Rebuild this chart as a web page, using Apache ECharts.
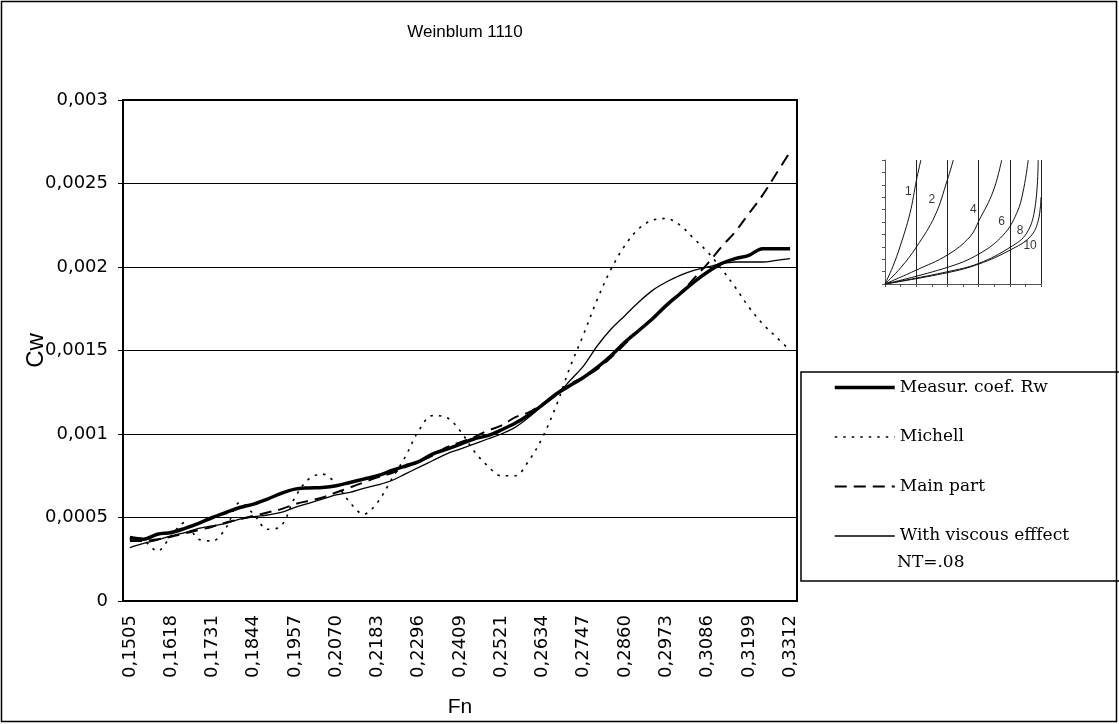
<!DOCTYPE html>
<html><head><meta charset="utf-8">
<script src="https://cdn.jsdelivr.net/npm/echarts@6/dist/echarts.min.js"></script>
<style>html,body{margin:0;padding:0;background:#fff}#c{width:1119px;height:724px}</style>
</head><body><div id="c"></div>
<script>
// Categories (Fn)
const fn = [0.1505,0.1543,0.1580,0.1618,0.1656,0.1693,0.1731,0.1769,0.1806,0.1844,
0.1881,0.1919,0.1957,0.1994,0.2032,0.2070,0.2107,0.2145,0.2183,0.2220,
0.2258,0.2296,0.2333,0.2371,0.2409,0.2446,0.2484,0.2521,0.2559,0.2597,
0.2634,0.2672,0.2710,0.2747,0.2785,0.2823,0.2860,0.2898,0.2936,0.2973,
0.3011,0.3049,0.3086,0.3124,0.3161,0.3199,0.3237,0.3274,0.3312];
const measured = [0.00038,0.00037,0.00040,0.00041,0.000435,0.000465,0.00050,0.00053,0.00056,0.00058,
0.00061,0.000645,0.00067,0.000677,0.00068,0.00069,0.00071,0.00073,0.00075,0.00078,
0.000808,0.000834,0.00088,0.000908,0.000938,0.00097,0.00099,0.001024,0.001064,0.001114,
0.001174,0.00124,0.00129,0.00134,0.00140,0.00147,0.00155,0.00162,0.00169,0.00177,
0.00184,0.00191,0.00197,0.00202,0.00205,0.00207,0.00211,0.00211,0.00211];
const michell = [0.00037,0.00036,0.00030,0.00039,0.00047,0.00037,0.00036,0.00044,0.00059,0.00052,
0.00043,0.00045,0.00062,0.00073,0.00076,0.00070,0.00059,0.00052,0.00059,0.000725,
0.00086,0.00102,0.00111,0.00110,0.00102,0.00090,0.00081,0.00075,0.00075,0.00084,
0.00098,0.00117,0.00140,0.00160,0.00181,0.00199,0.00213,0.00223,0.00228,0.00229,
0.00225,0.00217,0.00209,0.00199,0.00188,0.00176,0.00166,0.00158,0.00150];
const mainPart = [0.00036,0.00036,0.00037,0.000385,0.000405,0.000425,0.000445,0.00047,0.00049,0.00051,
0.00053,0.00055,0.00058,0.00060,0.00062,0.00065,0.00068,0.00071,0.00074,0.000765,
0.00080,0.000834,0.00087,0.00092,0.00095,0.00098,0.00102,0.00105,0.00110,0.00113,
0.00118,0.00124,0.00130,0.00134,0.00139,0.00146,0.00154,0.00162,0.00169,0.00177,
0.00184,0.00193,0.00202,0.00212,0.00221,0.00232,0.00243,0.00256,0.00269];
const viscous = [0.00032,0.000345,0.000365,0.00039,0.00041,0.000435,0.00045,0.000465,0.00049,0.000505,
0.000515,0.00053,0.00056,0.000585,0.00061,0.000635,0.00065,0.000675,0.000695,0.00072,
0.00076,0.00080,0.00084,0.00088,0.00091,0.00094,0.00097,0.00100,0.00104,0.00110,
0.00117,0.00123,0.00132,0.00141,0.00153,0.00163,0.00171,0.00179,0.00186,0.00191,
0.00195,0.00198,0.00200,0.00202,0.00203,0.00203,0.00203,0.00204,0.00205];
const seriesNames = ['Measur. coef. Rw','Michell','Main part','With viscous efffect'];
const noteText = 'NT=.08';
const titleText = 'Weinblum 1110';
const xName = 'Fn', yName = 'Cw';

// Inset picture curves
const inset1 = [[0,0],[0.25,1.4],[0.48,3.0],[0.8,5.7],[1.01,8.4],[1.15,10]];
const inset2 = [[0,0],[0.5,1.3],[1.01,3.0],[1.6,5.5],[2.0,8.4],[2.19,10]];
const inset4 = [[0,0],[1.01,1.13],[2.0,2.34],[2.72,3.8],[3.01,5.1],[3.47,7.5],[3.74,10]];
const inset6 = [[0,0],[2.0,1.34],[3.01,2.42],[3.79,3.95],[4.22,5.7],[4.43,7.5],[4.59,10]];
const inset8 = [[0,0],[2.0,0.99],[3.01,1.67],[4.01,2.96],[4.54,4.1],[4.81,6.2],[4.91,10]];
const inset10 = [[0,0],[2.0,0.91],[3.01,1.61],[4.01,2.74],[4.65,3.8],[4.91,5.1],[5.0,7.0]];
const insetLabels = [['1',0.75,7.45],['2',1.5,6.8],['4',2.83,5.97],['6',3.74,5.0],['8',4.33,4.3],['10',4.65,3.1]];

const chart = echarts.init(document.getElementById('c'), null, {renderer:'canvas'});
const sans = 'Liberation Sans, Arial, sans-serif';
const wide = 'DejaVu Sans, sans-serif';
const serif = 'DejaVu Serif, serif';
function insetLine(d){
  return {type:'line', xAxisIndex:1, yAxisIndex:1, data:d, smooth:0.4, symbol:'none',
    lineStyle:{color:'#111', width:1}, silent:true, legendHoverLink:false};
}
const lineStyles = [
  {color:'#000', width:3.5},
  {color:'#000', width:1.6, type:[2.5,6]},
  {color:'#000', width:2, type:[12,7]},
  {color:'#000', width:1.3}
];
const seriesData = [measured, michell, mainPart, viscous];
const option = {
  animation:false,
  backgroundColor:'#fff',
  title:{text:titleText, left:460, textAlign:'center', top:19,
    textStyle:{fontFamily:sans, fontSize:17, fontWeight:'normal', color:'#000'}},
  grid:[
    {left:123, top:100, width:674, height:501, show:true, borderColor:'#000', borderWidth:2, containLabel:false},
    {left:885, top:160, width:156, height:124, containLabel:false}
  ],
  legend:{
    data:seriesNames.map((n,i)=>({name:n, lineStyle:lineStyles[i], itemStyle:{opacity:0}})),
    orient:'vertical', left:833, top:379, padding:0,
    itemWidth:60, itemHeight:14, itemGap:32.5, selectedMode:false,
    itemStyle:{opacity:0},
    textStyle:{fontFamily:serif, fontSize:17, color:'#000', lineHeight:16}
  },
  xAxis:[
    {type:'category', data:fn, boundaryGap:true, gridIndex:0,
     name:xName, nameLocation:'middle', nameGap:96, nameMoveOverlap:false,
     nameTextStyle:{fontFamily:sans, fontSize:21, color:'#000'},
     axisLine:{lineStyle:{color:'#000', width:2}},
     axisTick:{interval:0, length:5, lineStyle:{color:'#000', width:1}},
     axisLabel:{interval:2, rotate:90, margin:14, fontFamily:wide, fontSize:18, color:'#000',
       formatter:v=>Number(v).toFixed(4).replace('.',',')},
     splitLine:{show:false}},
    {type:'value', gridIndex:1, min:0, max:5, interval:1,
     axisLine:{lineStyle:{color:'#555', width:1}},
     axisTick:{length:3, lineStyle:{color:'#555'}},
     minorTick:{show:true, splitNumber:2, length:3, lineStyle:{color:'#555'}},
     axisLabel:{show:false},
     splitLine:{show:true, lineStyle:{color:'#222', width:1}}}
  ],
  yAxis:[
    {type:'value', min:0, max:0.003, interval:0.0005, gridIndex:0,
     name:yName, nameLocation:'middle', nameGap:75, nameRotate:90, nameMoveOverlap:false,
     nameTextStyle:{fontFamily:sans, fontSize:24, color:'#000'},
     axisLine:{show:true, lineStyle:{color:'#000', width:2}},
     axisTick:{show:true, length:5, lineStyle:{color:'#000'}},
     axisLabel:{margin:15, fontFamily:wide, fontSize:18, color:'#000',
       formatter:v=>String(+Number(v).toFixed(4)).replace('.',',')},
     splitLine:{show:true, lineStyle:{color:'#000', width:1}}},
    {type:'value', gridIndex:1, min:0, max:10, interval:1,
     axisLine:{show:true, lineStyle:{color:'#555', width:1}},
     axisTick:{show:true, length:3, lineStyle:{color:'#555'}},
     axisLabel:{show:false}, splitLine:{show:false}}
  ],
  series:[
    ...seriesNames.map((n,i)=>({name:n, type:'line', data:seriesData[i], smooth:0.35,
      symbol:'none', z:[5,3,4,4][i], itemStyle:{color:'#000'}, lineStyle:lineStyles[i]})),
    insetLine(inset1), insetLine(inset2), insetLine(inset4),
    insetLine(inset6), insetLine(inset8), insetLine(inset10),
    {type:'scatter', xAxisIndex:1, yAxisIndex:1, symbolSize:0, silent:true,
     data:insetLabels.map(l=>({name:l[0], value:[l[1], l[2]]})),
     label:{show:true, position:'inside', formatter:p=>p.name, fontFamily:sans, fontSize:12, color:'#000'}}
  ],
  graphic:[
    {type:'rect', shape:{x:801, y:372, width:330, height:209}, style:{fill:'transparent', stroke:'#000', lineWidth:1.5}, silent:true},
    {type:'text', left:897, top:554, style:{text:noteText, font:'17px '+serif, fill:'#000'}, silent:true},
    {type:'rect', shape:{x:1.5, y:1.5, width:1115, height:720}, style:{fill:'transparent', stroke:'#000', lineWidth:1.5}, silent:true, z:100}
  ]
};
chart.setOption(option);
</script>
</body></html>
